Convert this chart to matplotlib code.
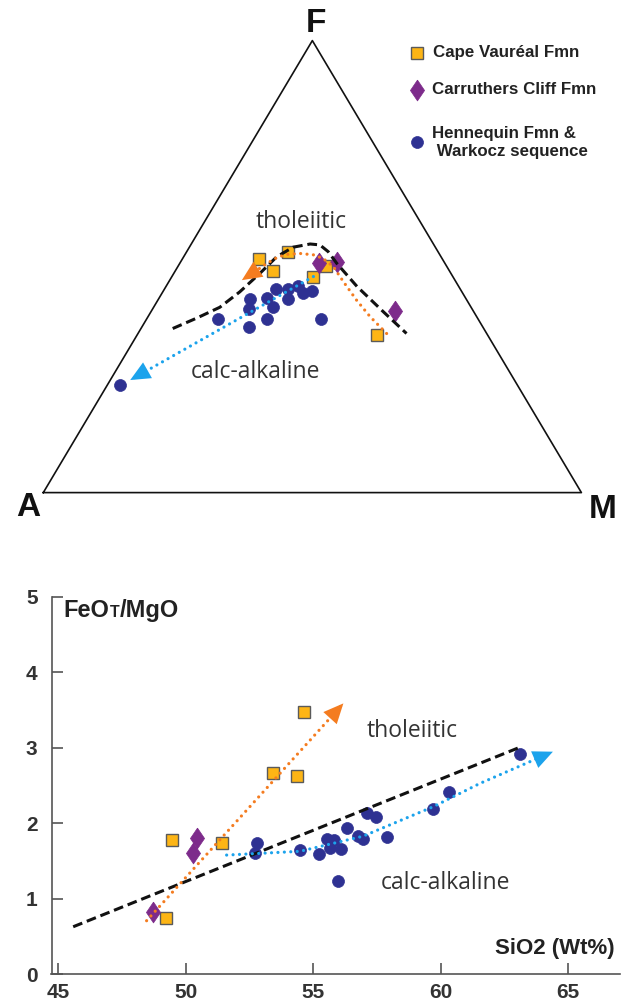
import matplotlib
matplotlib.use('Agg')
import matplotlib.pyplot as plt
import numpy as np

# ---------------- data ----------------
# AFM ternary (percent F, A, M)
cv_F = [51.7, 53.2, 49.1, 47.6, 50.2, 34.9]
cv_A = [34.0, 27.9, 32.8, 26.0, 22.4, 20.6]
cv_M = [14.3, 18.9, 18.1, 26.4, 27.4, 44.5]

cc_F = [50.7, 51.1, 40.2]
cc_A = [23.4, 19.9, 14.6]
cc_M = [25.9, 29.0, 45.2]

hw_F = [38.4, 42.8, 40.6, 36.6, 43.0, 41.0, 38.4, 45.0, 45.0, 42.8, 45.8, 44.2, 44.7, 38.4, 23.8]
hw_A = [48.4, 40.2, 41.5, 43.6, 36.9, 36.9, 39.2, 34.3, 32.1, 33.2, 29.8, 29.7, 27.7, 29.1, 73.8]
hw_M = [13.2, 17.0, 18.0, 19.9, 20.1, 22.1, 22.4, 20.7, 22.9, 24.0, 24.4, 26.1, 27.6, 32.5, 2.4]

# tholeiitic / calc-alkaline divide (AFM)
div_F = [36.3, 38.6, 41.0, 44.4, 48.5, 52.2, 54.3, 55.0, 54.8, 53.3, 50.7, 45.6, 40.0, 35.2]
div_A = [57.8, 52.2, 46.7, 41.3, 35.5, 30.5, 26.4, 22.9, 21.2, 20.4, 20.1, 18.9, 16.8, 14.9]
div_M = [5.9, 9.2, 12.3, 14.3, 16.0, 17.3, 19.3, 22.1, 24.0, 26.3, 29.2, 35.5, 43.2, 49.9]

# Cape Vaureal trend (AFM)
ort_F = [35.2, 38.9, 42.6, 46.7, 50.0, 51.8, 52.6, 52.9, 52.7, 52.0, 50.7, 49.2, 47.0]
ort_A = [18.6, 19.8, 20.5, 20.9, 21.1, 22.1, 23.5, 25.8, 28.4, 30.6, 33.1, 35.7, 39.6]
ort_M = [46.2, 41.3, 36.9, 32.4, 28.9, 26.1, 23.9, 21.3, 18.9, 17.4, 16.2, 15.1, 13.4]

# Hennequin trend (AFM)
blt_F = [47.8, 24.9]
blt_A = [25.9, 71.4]
blt_M = [26.3, 3.7]

# SiO2 vs FeOT/MgO
cv_si = [54.64, 53.43, 54.35, 49.44, 51.43, 49.21]
cv_fm = [3.47, 2.67, 2.63, 1.78, 1.74, 0.74]
cc_si = [50.45, 50.29, 48.72]
cc_fm = [1.80, 1.61, 0.83]
hw_si = [52.71, 52.80, 54.48, 55.24, 55.53, 55.81, 55.66, 56.07, 56.31, 56.77,
         56.96, 57.12, 57.46, 57.88, 59.68, 60.34, 63.09, 55.98]
hw_fm = [1.61, 1.74, 1.65, 1.60, 1.79, 1.78, 1.68, 1.66, 1.94, 1.83,
         1.79, 2.14, 2.08, 1.82, 2.19, 2.41, 2.92, 1.23]

div2_si = [45.58, 63.04]
div2_fm = [0.63, 3.00]
ort2_si = [48.46, 56.18]
ort2_fm = [0.71, 3.59]
blt2_si = [51.60, 54.48, 56.95, 59.70, 61.54, 64.40]
blt2_fm = [1.58, 1.63, 1.83, 2.22, 2.53, 2.95]

x_ticks = [45, 50, 55, 60, 65]
y_ticks = [0, 1, 2, 3, 4, 5]
legend_labels = ['Cape Vauréal Fmn', 'Carruthers Cliff Fmn', 'Hennequin Fmn &\n Warkocz sequence']

# ---------------- style ----------------
C_SQ = '#FDB515'
C_SQE = '#5a5a5a'
C_DI = '#7D2B8B'
C_CI = '#2E3192'
C_OR = '#F47C20'
C_BL = '#1CA3EC'
TXT = '#333333'
DIAMOND = [(0, 1), (0.68, 0), (0, -1), (-0.68, 0), (0, 1)]

plt.rcParams['font.family'] = ['Liberation Sans', 'DejaVu Sans']

W, H = 628, 1002
fig = plt.figure(figsize=(W / 100, H / 100), dpi=100)


def fx(px):
    return px / W


def fy(py):
    return 1 - py / H


def tern(F, A, M):
    F = np.asarray(F, float)
    A = np.asarray(A, float)
    M = np.asarray(M, float)
    S = F + A + M
    return (M + F / 2) / S, F / S


sq_kw = dict(marker='s', ms=9, mfc=C_SQ, mec=C_SQE, mew=1.0, ls='none', zorder=3)
di_kw = dict(marker=DIAMOND, ms=15, mfc=C_DI, mec=C_DI, mew=0.5, ls='none', zorder=3)
ci_kw = dict(marker='o', ms=8.6, mfc=C_CI, mec=C_CI, mew=0.5, ls='none', zorder=3)
dot_kw = dict(lw=2.3, dashes=(0.01, 2.0), dash_capstyle='round', zorder=4)
dash_kw = dict(color='#111111', lw=2.2, dashes=(3.2, 1.6), zorder=4)


def arrow(ax, x0, y0, x1, y1, color, scale=13):
    ax.annotate('', xy=(x1, y1), xytext=(x0, y0),
                arrowprops=dict(arrowstyle='-|>,head_length=1.1,head_width=0.5',
                                mutation_scale=scale, color=color, lw=0,
                                shrinkA=0, shrinkB=0), zorder=5)


# ---------------- AFM ternary ----------------
ax1 = fig.add_axes([fx(43.3), fy(492.6), (581.4 - 43.3) / W, (492.6 - 40.6) / H])
ax1.set_xlim(0, 1)
ax1.set_ylim(0, 1)
ax1.axis('off')

tx, ty = tern([0, 0, 100, 0], [100, 0, 0, 100], [0, 100, 0, 0])
ax1.plot(tx, ty, color='#111111', lw=1.2, clip_on=False, zorder=1)

x, y = tern(div_F, div_A, div_M)
ax1.plot(x, y, **dash_kw)
x, y = tern(ort_F, ort_A, ort_M)
ax1.plot(x[:-1], y[:-1], color=C_OR, **dot_kw)
arrow(ax1, x[-2], y[-2], x[-1], y[-1], C_OR)
x, y = tern(blt_F, blt_A, blt_M)
ax1.plot(x, y, color=C_BL, **dot_kw)
arrow(ax1, x[-2], y[-2], x[-1], y[-1], C_BL)

x, y = tern(hw_F, hw_A, hw_M)
ax1.plot(x, y, **ci_kw)
x, y = tern(cv_F, cv_A, cv_M)
ax1.plot(x, y, **sq_kw)
x, y = tern(cc_F, cc_A, cc_M)
ax1.plot(x, y, **di_kw)

fig.text(fx(301.5), fy(222), 'tholeiitic', ha='center', va='center',
         fontsize=16.5, family='Open Sans', color=TXT)
fig.text(fx(256), fy(372), 'calc-alkaline', ha='center', va='center',
         fontsize=16.5, family='Open Sans', color=TXT)

for s, px, py in [('F', 316, 24), ('A', 28, 507), ('M', 603, 509)]:
    fig.text(fx(px), fy(py), s, ha='center', va='center', fontsize=24,
             fontweight='bold', color='#111111')

# legend
leg_pos = [(416.5, 52.5), (416.5, 89.5), (416.5, 141.5)]
leg_kw = [sq_kw, di_kw, ci_kw]
for (px, py), kw in zip(leg_pos, leg_kw):
    ax1.plot([px / W], [fy(py)], transform=fig.transFigure, clip_on=False, **kw)
fig.text(fx(433), fy(52.5), legend_labels[0], ha='left', va='center',
         fontsize=12.2, fontweight='bold', color='#222222')
fig.text(fx(431.5), fy(89.5), legend_labels[1], ha='left', va='center',
         fontsize=12.2, fontweight='bold', color='#222222')
fig.text(fx(432.5), fy(142.5), legend_labels[2], ha='left', va='center',
         fontsize=12.2, fontweight='bold', color='#222222', linespacing=1.25)

# ---------------- SiO2 vs FeOT/MgO ----------------
px_per = 25.49
x_lo = 55 + (51.5 - 313.3) / px_per
x_hi = 55 + (620 - 313.3) / px_per
ax2 = fig.add_axes([fx(51.5), fy(974.3), (620 - 51.5) / W, (974.3 - 597) / H])
ax2.set_xlim(x_lo, x_hi)
ax2.set_ylim(0, 5)
for sp in ['top', 'right']:
    ax2.spines[sp].set_visible(False)
for sp in ['left', 'bottom']:
    ax2.spines[sp].set_color('#555555')
    ax2.spines[sp].set_linewidth(1.2)
ax2.set_xticks(x_ticks)
ax2.set_yticks(y_ticks)
ax2.tick_params(direction='in', length=8, width=1.2, color='#555555',
                labelcolor=TXT, labelsize=15)
ax2.tick_params(axis='y', pad=10)
ax2.tick_params(axis='x', pad=6)
for t in ax2.get_xticklabels() + ax2.get_yticklabels():
    t.set_fontweight('bold')

ax2.plot(div2_si, div2_fm, **dash_kw)
ax2.plot(ort2_si, ort2_fm, color=C_OR, **dot_kw)
arrow(ax2, ort2_si[-2], ort2_fm[-2], ort2_si[-1], ort2_fm[-1], C_OR)
ax2.plot(blt2_si, blt2_fm, color=C_BL, **dot_kw)
arrow(ax2, blt2_si[-2], blt2_fm[-2], blt2_si[-1], blt2_fm[-1], C_BL)

ax2.plot(hw_si, hw_fm, **ci_kw)
ax2.plot(cv_si, cv_fm, **sq_kw)
ax2.plot(cc_si, cc_fm, **di_kw)

fig.text(fx(411.7), fy(731), 'tholeiitic', ha='center', va='center',
         fontsize=16.5, family='Open Sans', color=TXT)
fig.text(fx(446), fy(883), 'calc-alkaline', ha='center', va='center',
         fontsize=16.5, family='Open Sans', color=TXT)

# axis titles
t1 = fig.text(fx(63.5), fy(617), 'FeO', ha='left', va='baseline',
              fontsize=17, fontweight='bold', color='#222222')
t2 = ax2.annotate('T', xy=(1, 0), xycoords=t1, xytext=(0.3, 1.4),
                  textcoords='offset points', ha='left', va='bottom',
                  fontsize=11.5, fontweight='bold', color='#222222')
t3 = ax2.annotate('/MgO', xy=(1, 0), xycoords=(t2, t1), xytext=(0.3, 0),
                  textcoords='offset points', ha='left', va='bottom',
                  fontsize=17, fontweight='bold', color='#222222')
fig.text(fx(615), fy(948.5), 'SiO2 (Wt%)', ha='right', va='center',
         fontsize=16, fontweight='bold', color='#222222')

fig.savefig('out.png', dpi=100, facecolor='white')
